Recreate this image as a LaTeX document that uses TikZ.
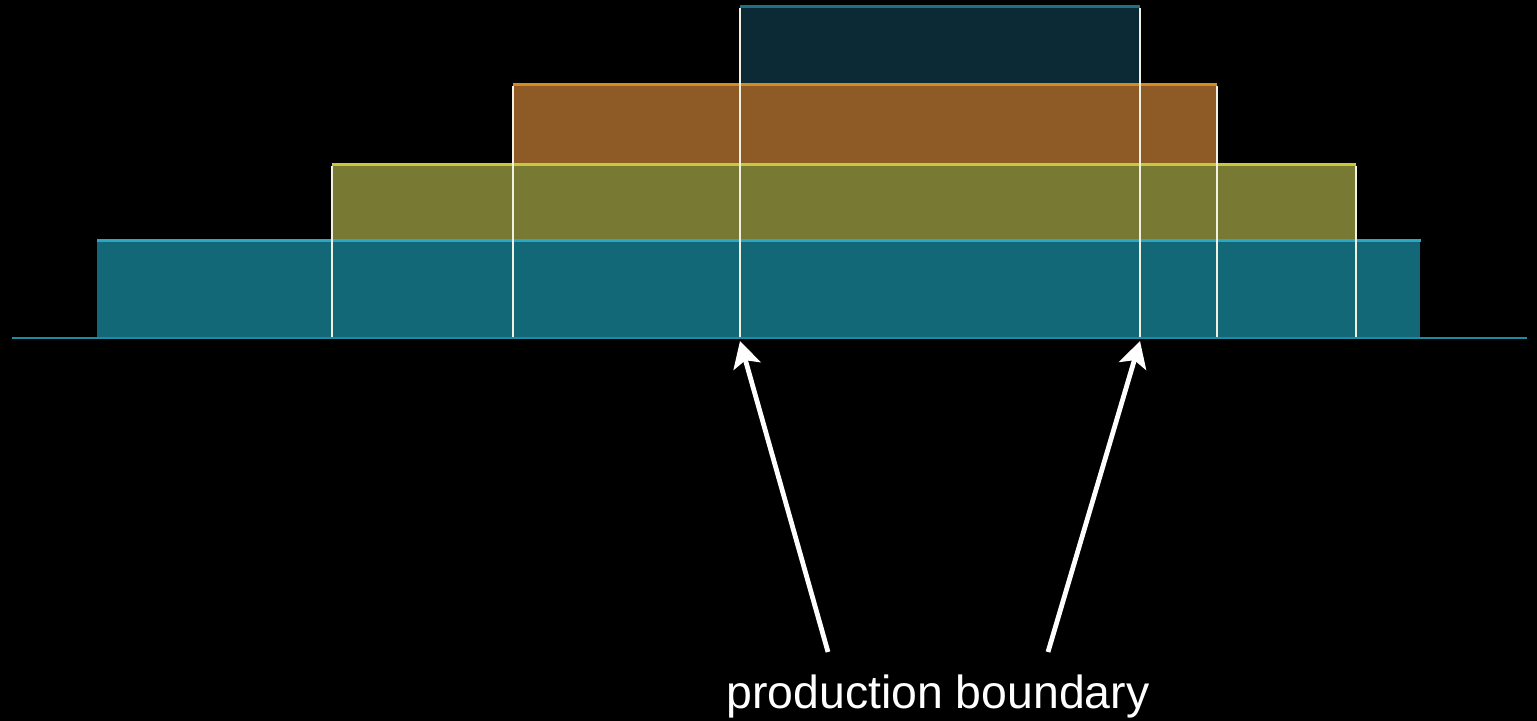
\documentclass[tikz,border=0pt]{standalone}
\usepackage{fontspec}
\setmainfont{Liberation Sans}
\usetikzlibrary{arrows.meta}
\definecolor{bgblack}{HTML}{000000}
\definecolor{teallow}{HTML}{136878}
\definecolor{tealedge}{HTML}{2BA6C4}
\definecolor{olivefill}{HTML}{787A33}
\definecolor{oliveedge}{HTML}{C8C83A}
\definecolor{orangefill}{HTML}{8E5B27}
\definecolor{orangeedge}{HTML}{D48C22}
\definecolor{darkfill}{HTML}{0B2A35}
\definecolor{darkedge}{HTML}{1C7282}
\definecolor{bound}{HTML}{F2F0E0}
\definecolor{baseln}{HTML}{1C8CA6}
\tikzset{
  layer/.style={draw=none},
  topedge/.style={line width=1.5pt},
  boundline/.style={draw=bound, line width=1.3pt},
  pointer/.style={draw=white, line width=2.4pt, -{Stealth[length=13pt,width=14pt,inset=3pt]}},
  label/.style={text=white, font=\fontsize{23.2pt}{28pt}\selectfont, anchor=base, inner sep=0pt}
}
\begin{document}
\begin{tikzpicture}[x=0.5pt,y=-0.5pt]
\fill[bgblack] (0,0) rectangle (1537,721);
\useasboundingbox (0,0) rectangle (1537,721);
% layers
\fill[teallow] (97,241) rectangle (1420,338);
\fill[olivefill] (332,165) rectangle (1356,241);
\fill[orangefill] (513,85) rectangle (1217,165);
\fill[darkfill] (740,7) rectangle (1140,85);
% top edges
\draw[topedge, tealedge] (97,241) -- (1421,241);
\draw[topedge, oliveedge] (332,165) -- (1356,165);
\draw[topedge, orangeedge] (513,85) -- (1217,85);
\draw[topedge, darkedge] (740,7) -- (1140,7);
% baseline
\draw[baseln, line width=1pt] (12,338) -- (1527,338);
% boundary lines
\draw[boundline] (332,166) -- (332,337);
\draw[boundline] (513,86) -- (513,337);
\draw[boundline] (740,8) -- (740,337);
\draw[boundline] (1140,8) -- (1140,337);
\draw[boundline] (1217,86) -- (1217,337);
\draw[boundline] (1356,166) -- (1356,337);
% label and pointers
\node[label] (lbl) at (938,708) {production boundary};
\coordinate (pbL) at (740,341);
\coordinate (pbR) at (1140,341);
\coordinate (tailL) at (828,652);
\coordinate (tailR) at (1048,652);
\draw[pointer] (tailL) -- (pbL);
\draw[pointer] (tailR) -- (pbR);
\end{tikzpicture}
\end{document}
